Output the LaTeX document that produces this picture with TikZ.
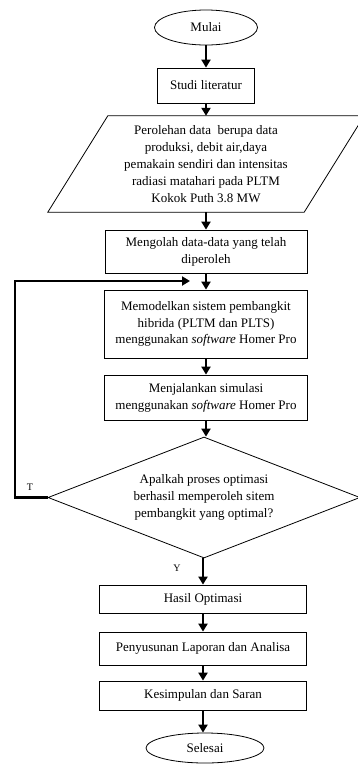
\documentclass[tikz,border=0pt]{standalone}
\usepackage{fontspec}
\setmainfont{Liberation Serif}
\usepackage{tikz}
\usetikzlibrary{arrows.meta, calc, shapes.geometric}

\begin{document}
\begin{tikzpicture}[x=1pt,y=-1pt,
  txt/.style={font=\fontsize{13}{16.8}\selectfont, align=center},
  box/.style={txt, draw, line width=0.8pt, inner sep=0pt},
  oval/.style={txt, draw, ellipse, line width=0.8pt, inner sep=0pt},
  arr/.style={-{Triangle[length=8pt,width=9pt]}, line width=2.6pt}]
\useasboundingbox (0,0) rectangle (357,764);
\node[oval, minimum width=103, minimum height=35] (mulai) at (206,27.5) {Mulai};
\node[box, minimum width=97, minimum height=35] (studi) at (206,85.5) {Studi literatur};
\node[txt, minimum width=256, minimum height=96, inner sep=0pt] (data) at (206,164)
  {Perolehan data~ berupa data\\produksi, debit air,daya\\pemakain sendiri dan intensitas\\radiasi matahari pada PLTM\\Kokok Puth 3.8 MW};
\draw[line width=0.8pt] ($(data.north west)+(30,0)$) -- ($(data.north east)+(30,0)$)
  -- ($(data.south east)+(-30,0)$) -- ($(data.south west)+(-30,0)$) -- cycle;
\node[box, minimum width=202, minimum height=43] (olah) at (206,251.5) {Mengolah data-data yang telah\\diperoleh};
\node[box, minimum width=203, minimum height=68] (model) at (206,324)
  {Memodelkan sistem pembangkit\\hibrida (PLTM dan PLTS)\\menggunakan \textit{software} Homer Pro};
\node[box, minimum width=203, minimum height=45] (sim) at (206,397.5)
  {Menjalankan simulasi\\menggunakan \textit{software} Homer Pro};
\node[txt, draw, diamond, aspect=2.58, line width=0.8pt, inner sep=0pt, minimum width=312, minimum height=121] (cek) at (204,497.5)
  {Apalkah proses optimasi\\berhasil memperoleh sitem\\pembangkit yang optimal?};
\node[box, minimum width=207, minimum height=28] (hasil) at (203,599) {Hasil Optimasi};
\node[box, minimum width=207, minimum height=33] (lapor) at (203,648.5) {Penyusunan Laporan dan Analisa};
\node[box, minimum width=207, minimum height=29] (simpul) at (203,695.5) {Kesimpulan dan Saran};
\node[oval, minimum width=118, minimum height=30] (selesai) at (205,748) {Selesai};
\coordinate (balik) at (190,281);
\draw[arr] (mulai) -- (studi);
\draw[arr] (studi) -- (studi |- data.north);
\draw[arr] (data.south) -- (olah);
\draw[arr] (olah) -- (model);
\draw[arr] (model) -- (sim);
\draw[arr] (sim) -- (sim |- cek.north);
\draw[arr] (cek.south -| hasil) -- (hasil);
\draw[arr] (hasil) -- (lapor);
\draw[arr] (lapor) -- (simpul);
\draw[arr] (simpul) -- (simpul |- selesai.north);
\draw[arr] (cek.west) -- (15,497.5) |- (balik);
\path
(30,487) node[txt, font=\fontsize{10}{12}\selectfont]{T}
(177,568) node[txt, font=\fontsize{10}{12}\selectfont]{Y};
\end{tikzpicture}
\end{document}
